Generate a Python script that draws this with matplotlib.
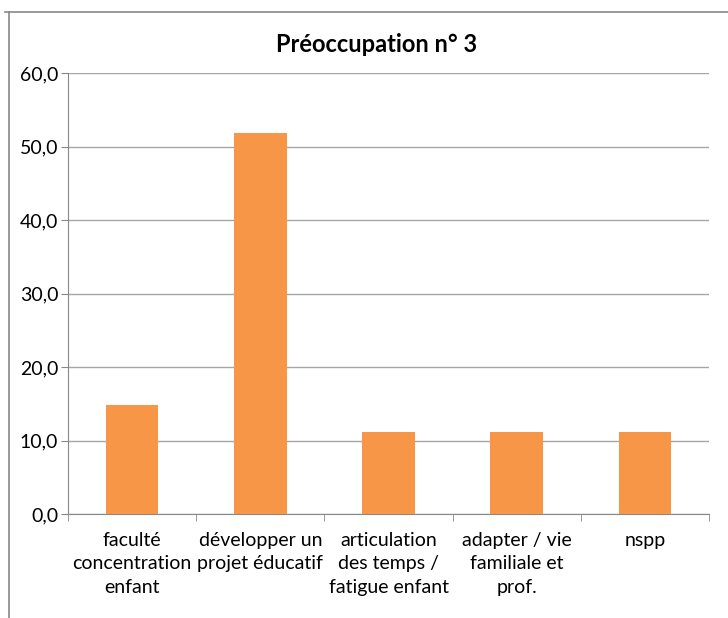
import numpy as np
import matplotlib.pyplot as plt
from matplotlib.lines import Line2D
from matplotlib.ticker import FuncFormatter, FixedLocator

categories = ["faculté\nconcentration\nenfant",
              "développer un\nprojet éducatif",
              "articulation\ndes temps /\nfatigue enfant",
              "adapter / vie\nfamiliale et\nprof.",
              "nspp"]
values = [14.8, 51.9, 11.1, 11.1, 11.1]
y_ticks = [0, 10, 20, 30, 40, 50, 60]

plt.rcParams['font.family'] = ['Lato', 'DejaVu Sans']

fig = plt.figure(figsize=(7.28, 6.18), dpi=100)
ax = fig.add_axes([68 / 728, 1 - 514 / 618, (709 - 68) / 728, (514 - 73) / 618])

x = np.arange(len(categories))
ax.bar(x, values, width=0.41, color='#F79646', zorder=3)

ax.set_xlim(-0.5, len(categories) - 0.5)
ax.set_ylim(0, 60)
ax.set_yticks(y_ticks)
ax.yaxis.set_major_formatter(FuncFormatter(lambda v, p: f"{v:.1f}".replace('.', ',')))
ax.grid(axis='y', color='#A6A6A6', linewidth=1, zorder=0)

ax.set_xticks(x)
ax.set_xticklabels(categories, fontsize=14, linespacing=1.45)
ax.xaxis.set_minor_locator(FixedLocator(np.arange(-0.5, len(categories), 1.0)))
ax.tick_params(axis='x', which='major', length=0, pad=13)
ax.tick_params(axis='x', which='minor', length=5, color='#888888')
ax.tick_params(axis='y', length=5, color='#888888', labelsize=14, pad=2)

for side in ['top', 'right']:
    ax.spines[side].set_visible(False)
for side in ['left', 'bottom']:
    ax.spines[side].set_color('#888888')

fig.text(377 / 728, 1 - 45 / 618, "Préoccupation n° 3",
         ha='center', va='center', fontsize=17, fontweight='bold')

# outer chart frame (top and left only visible)
fig.add_artist(Line2D([5 / 728, 1.0], [1 - 12 / 618, 1 - 12 / 618],
                      transform=fig.transFigure, color='#888888', linewidth=1.2))
fig.add_artist(Line2D([9 / 728, 9 / 728], [0.0, 1 - 12 / 618],
                      transform=fig.transFigure, color='#888888', linewidth=1.2))

fig.savefig('out.png', dpi=100)
